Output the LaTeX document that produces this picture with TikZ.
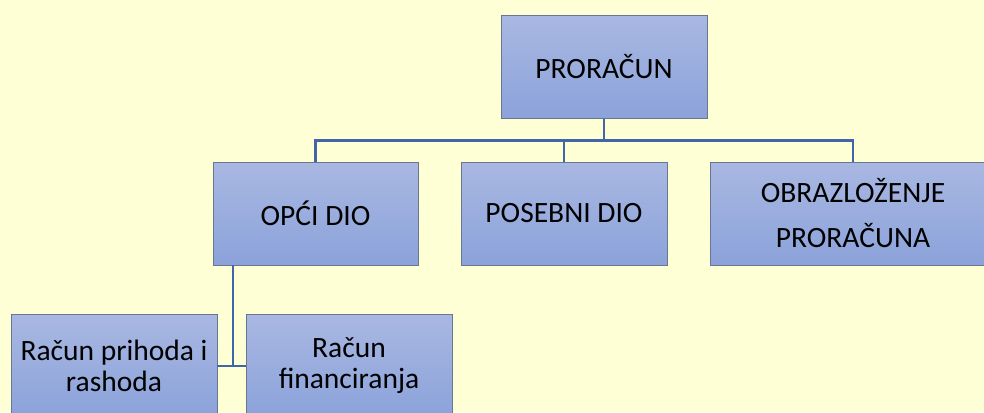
\documentclass[tikz,border=0pt]{standalone}
\usepackage{fontspec}
\setmainfont{Carlito}
\definecolor{bg}{HTML}{FFFFD6}
\definecolor{boxtop}{HTML}{A9B8E2}
\definecolor{boxbot}{HTML}{8BA2DA}
\definecolor{boxline}{HTML}{6A7690}
\definecolor{conn}{HTML}{4165AA}
\begin{document}
\begin{tikzpicture}[x=1pt,y=-1pt,
  orgbox/.style={draw=boxline, line width=0.9pt, top color=boxtop, bottom color=boxbot,
    minimum height=103pt, inner sep=0pt, align=center,
    font=\fontsize{29.5}{31}\selectfont},
  link/.style={draw=conn, line width=2.6pt}]
\fill[bg] (0,0) rectangle (984,412);
\useasboundingbox (0,0) rectangle (984,412);
\begin{scope}
\clip (0,0) rectangle (984,412);
\node[orgbox, minimum width=206pt] (pror) at (604,67) {PRORAČUN};
\node[orgbox, minimum width=205pt] (opci) at (315.5,213.5) {OPĆI DIO};
\node[orgbox, minimum width=206pt] (pos) at (564,213.5) {POSEBNI DIO};
\node[orgbox, minimum width=286pt, font=\fontsize{29.5}{45}\selectfont] (obr) at (853,213.5) {OBRAZLOŽENJE\\PRORAČUNA};
\node[orgbox, minimum width=206pt] (rph) at (114,365.5) {Račun prihoda i\\rashoda};
\node[orgbox, minimum width=206pt] (rfin) at (349,365.5) {Račun\\financiranja};
\coordinate (bus) at (604,140.5);
\coordinate (jn) at (233,366);
\draw[link] (pror.south) -- (bus);
\draw[link] (opci.north) |- (bus);
\draw[link] (pos.north) |- (bus);
\draw[link] (obr.north) |- (bus);
\draw[link] (opci.south -| jn) -- (jn);
\draw[link] (rph.east |- jn) -- (rfin.west |- jn);
\end{scope}
\end{tikzpicture}
\end{document}
